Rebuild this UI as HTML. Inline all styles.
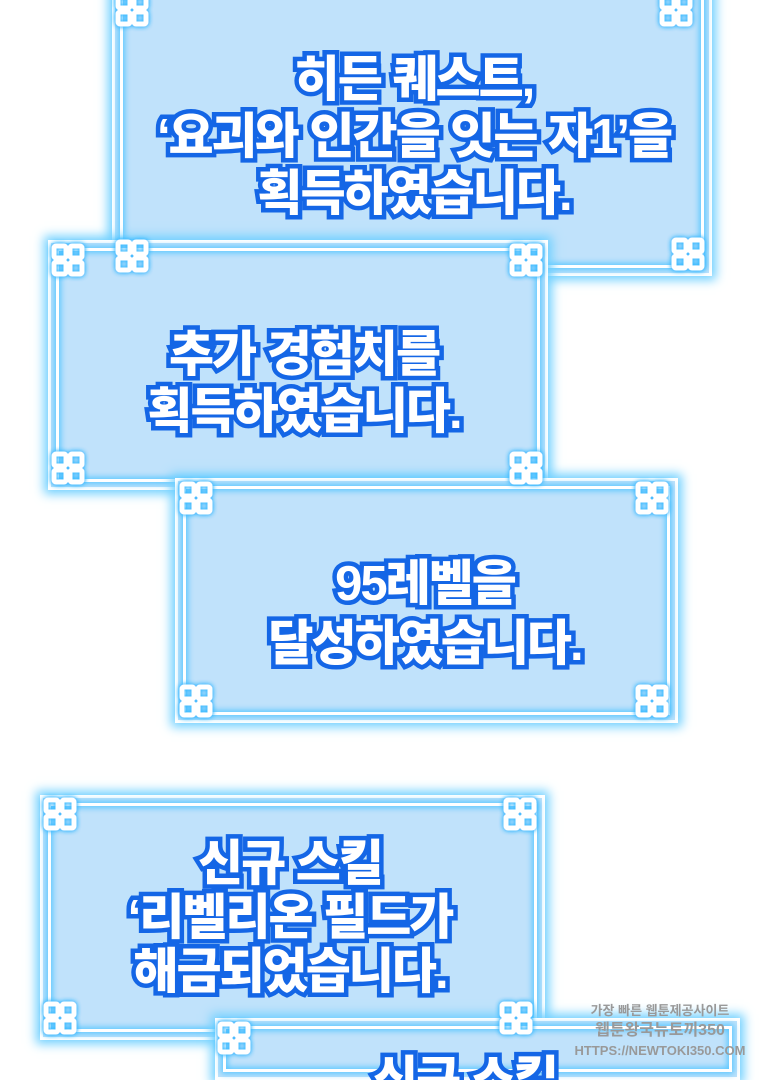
<!DOCTYPE html>
<html><head><meta charset="utf-8"><style>
html,body{margin:0;padding:0;width:760px;height:1080px;overflow:hidden;background:#fff;position:relative;}
.box{position:absolute;background:#c0e2fb;box-shadow:0 0 10px 4px #6fd0ff;border:3px solid #fff;box-sizing:border-box;}
.box::before{content:"";position:absolute;left:5px;top:5px;right:5px;bottom:5px;border:3px solid #fff;box-shadow:0 0 6px 2px #5cc8ff, inset 0 0 6px 2px #5cc8ff;}
.t{position:absolute;width:600px;text-align:center;font-family:"Liberation Sans","Noto Sans CJK KR",sans-serif;font-weight:900;font-size:49px;line-height:57px;color:#fff;-webkit-text-stroke:9px #1466e6;paint-order:stroke fill;letter-spacing:-2px;white-space:nowrap;}
</style></head><body>

<div class="box" style="left:112px;top:-20px;width:600px;height:296px;"></div>
<div class="box" style="left:48px;top:240px;width:500px;height:250px;"></div>
<div class="box" style="left:175px;top:478px;width:503px;height:245px;"></div>
<div class="box" style="left:40px;top:795px;width:505px;height:245px;"></div>
<div class="box" style="left:215px;top:1018px;width:525px;height:62px;"></div>

<div class="t" style="left:114px;top:52px">히든 퀘스트,<br>‘요괴와 인간을 잇는 자1’을<br>획득하였습니다.</div>
<div class="t" style="left:4px;top:327px">추가 경험치를<br>획득하였습니다.</div>
<div class="t" style="left:125px;top:554px;line-height:60px">95레벨을<br>달성하였습니다.</div>
<div class="t" style="left:-10px;top:837px;line-height:54px">신규 스킬<br>‘리벨리온 필드가<br>해금되었습니다.</div>
<div class="t" style="left:165px;top:1052px">신규 스킬</div>

<svg width="760" height="1080" style="position:absolute;left:0;top:0" xmlns="http://www.w3.org/2000/svg">
<defs><filter id="g"><feGaussianBlur stdDeviation="2.5" result="b"/><feFlood flood-color="#39b8ff"/><feComposite in2="b" operator="in"/><feMerge><feMergeNode/><feMergeNode/><feMergeNode in="SourceGraphic"/></feMerge></filter>
<g id="k" fill="none" stroke="#fff" stroke-width="5" stroke-linejoin="round"><rect x="2" y="2" width="12" height="12" rx="2"/><rect x="18" y="2" width="12" height="12" rx="2"/><rect x="2" y="18" width="12" height="12" rx="2"/><rect x="18" y="18" width="12" height="12" rx="2"/></g></defs>
<g filter="url(#g)">
<use href="#k" x="116" y="-6"/><use href="#k" x="660" y="-6"/><use href="#k" x="116" y="240"/><use href="#k" x="672" y="238"/>
<use href="#k" x="52" y="244"/><use href="#k" x="510" y="244"/><use href="#k" x="52" y="452"/><use href="#k" x="510" y="452"/>
<use href="#k" x="180" y="482"/><use href="#k" x="636" y="482"/><use href="#k" x="180" y="685"/><use href="#k" x="636" y="685"/>
<use href="#k" x="44" y="798"/><use href="#k" x="504" y="798"/><use href="#k" x="44" y="1002"/><use href="#k" x="500" y="1002"/>
<use href="#k" x="218" y="1022"/>
</g>
<g font-family="Liberation Sans, Noto Sans CJK KR, sans-serif" fill="#999" font-size="13" font-weight="bold" text-anchor="middle">
<text x="660" y="1015">가장 빠른 웹툰제공사이트</text>
<text x="660" y="1035" font-size="16">웹툰왕국뉴토끼350</text>
<text x="660" y="1055">HTTPS://NEWTOKI350.COM</text>
</g>
</svg>
</body></html>
